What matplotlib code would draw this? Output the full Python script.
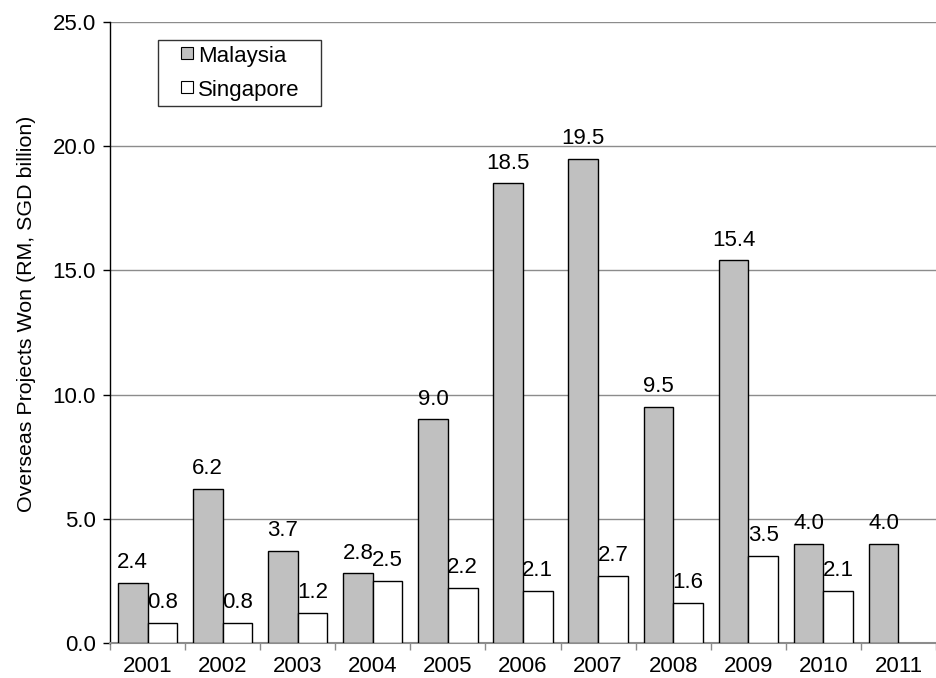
import numpy as np
import matplotlib
matplotlib.use("Agg")
import matplotlib.pyplot as plt
from matplotlib.patches import Rectangle
from matplotlib.legend_handler import HandlerPatch

plt.rcParams["font.family"] = ["Liberation Sans", "DejaVu Sans"]

years = ["2001", "2002", "2003", "2004", "2005", "2006",
         "2007", "2008", "2009", "2010", "2011"]
malaysia = [2.4, 6.2, 3.7, 2.8, 9.0, 18.5, 19.5, 9.5, 15.4, 4.0, 4.0]
singapore = [0.8, 0.8, 1.2, 2.5, 2.2, 2.1, 2.7, 1.6, 3.5, 2.1, None]


class SmallSquare(HandlerPatch):
    """Small square legend key sitting at the right end of the handle area."""

    def create_artists(self, legend, orig_handle, xdescent, ydescent,
                       width, height, fontsize, trans):
        size = 8.6
        cy = height / 2 - ydescent + 0.5
        p = Rectangle((width - xdescent - size - 1.5, cy - size / 2), size, size,
                      facecolor=orig_handle.get_facecolor(),
                      edgecolor="black", linewidth=0.8, transform=trans)
        return [p]


fig = plt.figure(figsize=(9.36, 6.78), dpi=100)
ax = fig.add_axes([110 / 936, 35 / 678, 826 / 936, 621 / 678])

x = np.arange(len(years))
w = 0.395
for i, v in enumerate(malaysia):
    ax.bar(x[i] - w / 2, v, w, color="#c0c0c0", edgecolor="black",
           linewidth=1.0, zorder=3, label="Malaysia" if i == 0 else None)
    ax.text(x[i] - w / 2, v + 0.4, f"{v:.1f}", ha="center", va="bottom",
            fontsize=16)
for i, v in enumerate(singapore):
    if v is None:
        continue
    ax.bar(x[i] + w / 2, v, w, color="white", edgecolor="black",
           linewidth=1.0, zorder=3, label="Singapore" if i == 0 else None)
    ax.text(x[i] + w / 2, v + 0.4, f"{v:.1f}", ha="center", va="bottom",
            fontsize=16)

ax.set_xlim(-0.5, len(years) - 0.5)
ax.set_ylim(0, 25)
ax.set_yticks(np.arange(0, 25.1, 5))
ax.set_yticklabels([f"{t:.1f}" for t in np.arange(0, 25.1, 5)], fontsize=16)
ax.yaxis.grid(True, color="#8c8c8c", linewidth=1.0, zorder=0)

# category labels centred, tick marks on the boundaries between them
ax.set_xticks(x)
ax.set_xticklabels(years, fontsize=16)
ax.tick_params(axis="x", length=0, pad=9)
ax.set_xticks(np.arange(-0.5, len(years), 1), minor=True)
ax.tick_params(axis="x", which="minor", length=5, color="#8c8c8c", width=1)
ax.tick_params(axis="y", length=5, width=1, color="black", pad=5)

for s in ("top", "right"):
    ax.spines[s].set_visible(False)
ax.spines["bottom"].set_color("#8c8c8c")
ax.spines["bottom"].set_linewidth(1.5)
ax.spines["left"].set_color("black")
ax.spines["left"].set_linewidth(1.0)

ax.set_ylabel("Overseas Projects Won (RM, SGD billion)", fontsize=15.4)
ax.yaxis.set_label_coords(-0.09, 0.53)

handles, labels = ax.get_legend_handles_labels()
handles = [h.patches[0] for h in handles]
leg = ax.legend(handles, labels, loc="upper left",
                bbox_to_anchor=(0.058, 0.971, 0.197, 0), mode="expand",
                fontsize=16, frameon=True, fancybox=False, edgecolor="black",
                handler_map={Rectangle: SmallSquare()},
                handlelength=1.4, handleheight=0.7, handletextpad=0.15,
                borderpad=0.26, labelspacing=0.575, borderaxespad=0)
leg.get_frame().set_linewidth(1.0)

fig.savefig("out.png", dpi=100)
